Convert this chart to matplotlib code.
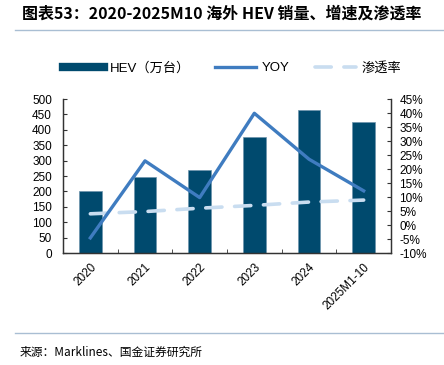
import matplotlib
matplotlib.use("Agg")
import matplotlib.pyplot as plt
from matplotlib.lines import Line2D
import numpy as np

plt.rcParams["font.family"] = ["Liberation Sans", "Noto Sans CJK SC", "DejaVu Sans"]

categories = ["2020", "2021", "2022", "2023", "2024", "2025M1-10"]
hev_sales = [201, 247, 271, 378, 465, 424]          # 万台
yoy = [-4.6, 22.9, 9.8, 39.9, 23.5, 12.2]            # %
penetration = [4.0, 4.8, 6.0, 7.0, 8.2, 8.9]        # %

C_BAR, C_YOY, C_PEN = "#004A6E", "#3F7CC0", "#C9DDF0"
C_RULE = "#A9BED3"
CJK = ["Noto Sans CJK SC", "DejaVu Sans"]

fig = plt.figure(figsize=(4.44, 3.65), dpi=100)
ax = fig.add_axes([63 / 444, 1 - 253 / 365, 328 / 444, 154 / 365])
ax2 = ax.twinx()

x = np.arange(len(categories))
ax.bar(x, hev_sales, width=0.42, color=C_BAR, edgecolor="#6D93AC", linewidth=0.5, zorder=2)
ax2.plot(x, penetration, color=C_PEN, lw=2.6, dashes=(4.5, 3.5), dash_capstyle="round", zorder=3)
ax2.plot(x, yoy, color=C_YOY, lw=2.4, zorder=4)

ax.set_xlim(-0.5, len(categories) - 0.5)
ax.set_ylim(0, 500)
ax.set_yticks(range(0, 501, 50))
ax2.set_ylim(-10, 45)
ax2.set_yticks(range(-10, 46, 5))
ax2.set_yticklabels([f"{v}%" for v in range(-10, 46, 5)])

ax.set_xticks(x)
ax.set_xticklabels(categories, rotation=45, ha="right", rotation_mode="anchor")
ax.set_xticks(np.arange(-0.5, len(categories)), minor=True)
ax.tick_params(axis="x", which="major", length=0, pad=6, labelsize=8.5)
ax.tick_params(axis="x", which="minor", direction="in", length=3, color="#333333")
ax.tick_params(axis="y", direction="in", length=3, labelsize=8.5, pad=8, color="#333333")
ax2.tick_params(axis="y", direction="in", length=3, labelsize=8.5, pad=6, color="#333333")

for a in (ax, ax2):
    a.spines["top"].set_visible(False)
    for s in ("left", "right", "bottom"):
        a.spines[s].set_color("#333333")
        a.spines[s].set_linewidth(0.9)

handles = [
    Line2D([0], [0], color=C_BAR, lw=6),
    Line2D([0], [0], color=C_YOY, lw=2.4),
    Line2D([0], [0], color=C_PEN, lw=2.6, dashes=(4.5, 3.5), dash_capstyle="round"),
]
fig.legend(handles, ["HEV（万台）", "YOY", "渗透率"], loc="center",
           bbox_to_anchor=(232 / 444, 1 - 68 / 365), ncol=3, frameon=False,
           fontsize=9.5, handlelength=3.1, columnspacing=1.9, handletextpad=0.45)

fig.text(22 / 444, 1 - 14 / 365, "图表53：2020-2025M10 海外 HEV 销量、增速及渗透率",
         family=CJK, fontsize=11.5, fontweight="bold", style="italic", va="center", ha="left")
fig.add_artist(Line2D([15 / 444, 1], [1 - 30 / 365] * 2, color=C_RULE, lw=1))
fig.add_artist(Line2D([15 / 444, 1], [1 - 333 / 365] * 2, color=C_RULE, lw=1))
fig.text(20 / 444, 1 - 352 / 365, "来源：Marklines、国金证券研究所",
         family=CJK, fontsize=8.5, va="center", ha="left")

fig.savefig("out.png", dpi=100)
